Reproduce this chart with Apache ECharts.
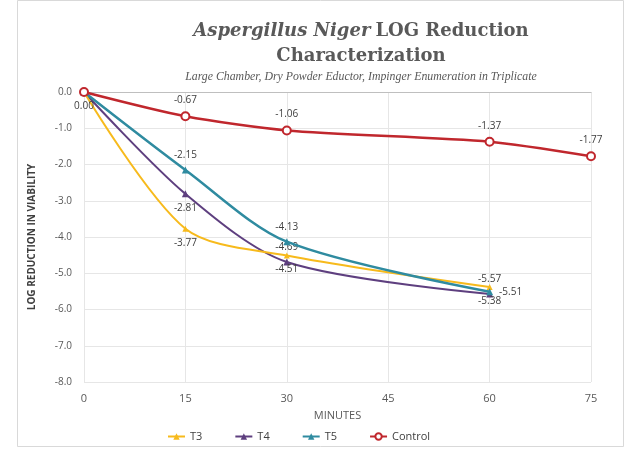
<!DOCTYPE html>
<html><head><meta charset="utf-8">
<script src="https://cdn.jsdelivr.net/npm/echarts@6/dist/echarts.min.js"></script>
<style>html,body{margin:0;padding:0;background:#fff}#c{width:627px;height:449px}</style>
</head><body><div id="c"></div>
<script>
const minutesT = [0, 15, 30, 60];
const minutesControl = [0, 15, 30, 60, 75];
const t3 = [0.00, -3.77, -4.51, -5.38];
const t4 = [0.00, -2.81, -4.69, -5.57];
const t5 = [0.00, -2.15, -4.13, -5.51];
const control = [0.00, -0.67, -1.06, -1.37, -1.77];
const xTicks = [0, 15, 30, 45, 60, 75];
const yTicks = [0, -1, -2, -3, -4, -5, -6, -7, -8];

const chart = echarts.init(document.getElementById('c'));
const labelColor = '#404040';
function pts(xs, ys, positions) {
  return ys.map((v, i) => {
    const p = positions[i];
    const item = { value: [xs[i], v] };
    if (p === null) item.label = { show: false };
    else item.label = { show: true, position: p };
    return item;
  });
}
const lbl = { show: true, fontSize: 10, color: labelColor, fontFamily: 'Open Sans', formatter: p => p.value[1].toFixed(2), distance: 6 };
chart.setOption({
  animation: false,
  backgroundColor: '#fff',
  title: {
    left: 356, top: 14, textAlign: 'center',
    text: '{a|Aspergillus Niger} {b|LOG Reduction}\n{b|Characterization}',
    textStyle: {
      lineHeight: 25,
      rich: {
        a: { fontFamily: 'DejaVu Serif', fontStyle: 'italic', fontWeight: 'bold', fontSize: 18, color: '#595959', lineHeight: 25 },
        b: { fontFamily: 'DejaVu Serif', fontWeight: 'bold', fontSize: 18, color: '#595959', lineHeight: 25 }
      }
    },
    subtext: 'Large Chamber, Dry Powder Eductor, Impinger Enumeration in Triplicate',
    itemGap: 2,
    subtextStyle: { fontFamily: 'Liberation Serif', fontStyle: 'italic', fontSize: 11.8, color: '#595959' }
  },
  graphic: [{ type: 'rect', shape: { x: 17.5, y: 0.5, width: 606, height: 446 }, style: { fill: 'none', stroke: '#d9d9d9', lineWidth: 1 }, silent: true }],
  grid: { left: 84, right: 36, top: 92, bottom: 67 },
  legend: {
    bottom: 2, left: 162, itemGap: 32, itemWidth: 17, itemHeight: 8,
    textStyle: { fontFamily: 'Open Sans', fontSize: 11, color: '#404040' },
    data: ['T3', 'T4', 'T5', 'Control']
  },
  xAxis: {
    type: 'value', min: 0, max: 75, interval: 15,
    name: 'MINUTES', nameLocation: 'middle', nameGap: 28,
    nameTextStyle: { fontFamily: 'Open Sans', fontSize: 11, color: '#595959' },
    axisLine: { lineStyle: { color: '#bfbfbf' } },
    axisTick: { show: false },
    axisLabel: { fontFamily: 'Open Sans', fontSize: 11, color: '#595959', margin: 11, formatter: v => xTicks.includes(v) ? String(v) : '' },
    splitLine: { show: true, lineStyle: { color: '#e6e6e6' } }
  },
  yAxis: {
    type: 'value', min: -8, max: 0, interval: 1,
    name: 'LOG REDUCTION IN VIABILITY', nameLocation: 'middle', nameGap: 47,
    nameTextStyle: { fontFamily: 'Open Sans', fontWeight: 'bold', fontSize: 10, color: '#404040' },
    axisLine: { show: false }, axisTick: { show: false },
    axisLabel: { fontFamily: 'Open Sans', fontSize: 10, color: '#595959', margin: 12, formatter: v => yTicks.includes(v) ? v.toFixed(1) : '' },
    splitLine: { show: true, lineStyle: { color: '#e6e6e6' } }
  },
  series: [
    { name: 'T3', type: 'line', smooth: 0.3, color: '#F7BA1C', lineStyle: { width: 2 }, symbol: 'triangle', symbolSize: 6, label: lbl,
      data: pts(minutesT, t3, ['bottom', 'bottom', 'bottom', 'bottom']), z: 3 },
    { name: 'T4', type: 'line', smooth: 0.3, color: '#5E3F7F', lineStyle: { width: 2 }, symbol: 'triangle', symbolSize: 7, label: lbl,
      data: pts(minutesT, t4, [null, 'bottom', 'top', 'top']), z: 2 },
    { name: 'T5', type: 'line', smooth: 0.3, color: '#2F8BA0', lineStyle: { width: 2.5 }, symbol: 'triangle', symbolSize: 7, label: lbl,
      data: pts(minutesT, t5, [null, 'top', 'top', 'right']), z: 4 },
    { name: 'Control', type: 'line', smooth: 0.25, color: '#C0272D', lineStyle: { width: 2.5 }, symbol: 'emptyCircle', symbolSize: 8, itemStyle: { borderWidth: 2 }, label: lbl,
      data: pts(minutesControl, control, [null, 'top', 'top', 'top', 'top']), z: 5 }
  ]
});
</script></body></html>
